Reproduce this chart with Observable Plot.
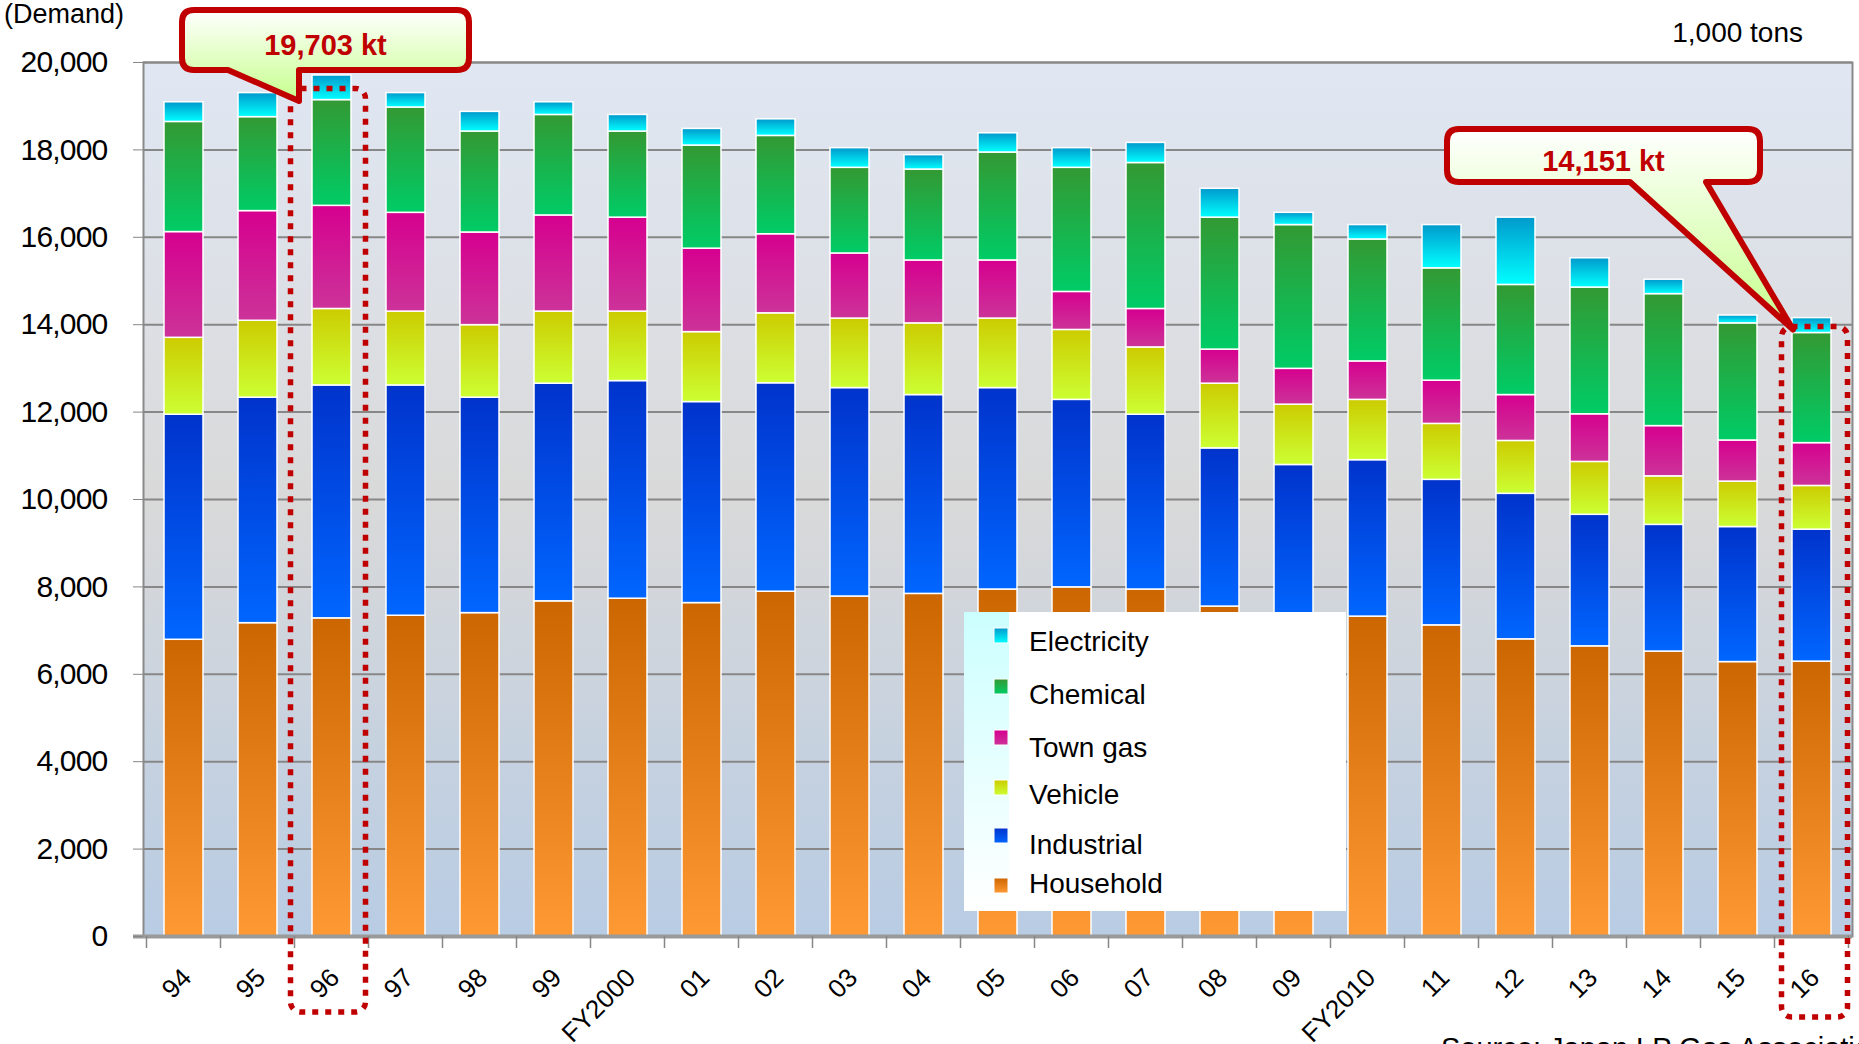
<!DOCTYPE html>
<html>
<head>
<meta charset="utf-8">
<script src="https://cdn.jsdelivr.net/npm/d3@7"></script>
<script src="https://cdn.jsdelivr.net/npm/@observablehq/plot@0.6"></script>
<style>
  html, body { margin: 0; padding: 0; background: #ffffff; overflow: hidden; }
  #chart svg { display: block; }
  #chart [aria-label="y-axis tick label"] text { letter-spacing: -0.8px; }
</style>
</head>
<body>
<svg width="0" height="0" style="position:absolute">
  <defs>
    <linearGradient id="gBg" x1="0" y1="0" x2="0" y2="1">
      <stop offset="0" stop-color="#e0e7f3"/>
      <stop offset="0.5" stop-color="#d9d9d9"/>
      <stop offset="1" stop-color="#b8cce4"/>
    </linearGradient>
    <linearGradient id="gHousehold" x1="0" y1="0" x2="0" y2="1">
      <stop offset="0" stop-color="#cc6600"/><stop offset="1" stop-color="#ff9933"/>
    </linearGradient>
    <linearGradient id="gIndustrial" x1="0" y1="0" x2="0" y2="1">
      <stop offset="0" stop-color="#0033cc"/><stop offset="1" stop-color="#0066ff"/>
    </linearGradient>
    <linearGradient id="gVehicle" x1="0" y1="0" x2="0" y2="1">
      <stop offset="0" stop-color="#cccc00"/><stop offset="1" stop-color="#ccff33"/>
    </linearGradient>
    <linearGradient id="gTown" x1="0" y1="0" x2="0" y2="1">
      <stop offset="0" stop-color="#d6008f"/><stop offset="1" stop-color="#cc3399"/>
    </linearGradient>
    <linearGradient id="gChemical" x1="0" y1="0" x2="0" y2="1">
      <stop offset="0" stop-color="#339933"/><stop offset="1" stop-color="#00cc66"/>
    </linearGradient>
    <linearGradient id="gElectricity" x1="0" y1="0" x2="0" y2="1">
      <stop offset="0" stop-color="#0099cc"/><stop offset="1" stop-color="#00ffff"/>
    </linearGradient>
    <linearGradient id="gCallout" x1="0" y1="0" x2="0" y2="1">
      <stop offset="0" stop-color="#ffffff"/><stop offset="1" stop-color="#c6ff8c"/>
    </linearGradient>
    <linearGradient id="gLegendStrip" x1="0" y1="0" x2="0" y2="1">
      <stop offset="0" stop-color="#ccffff"/><stop offset="1" stop-color="#ffffff"/>
    </linearGradient>
  </defs>
</svg>
<div id="chart"></div>
<script>
// ---------------- DATA ----------------
const years = ["94","95","96","97","98","99","FY2000","01","02","03","04","05","06","07","08","09","FY2010","11","12","13","14","15","16"];
const seriesNames = ["Household","Industrial","Vehicle","Town gas","Chemical","Electricity"];
const household   = [6790,7170,7280,7340,7400,7670,7730,7630,7890,7780,7840,7940,7990,7940,7550,7250,7320,7120,6800,6640,6520,6280,6290];
const industrial  = [5150,5160,5330,5270,4930,4980,4980,4600,4770,4770,4550,4610,4290,4000,3620,3540,3580,3330,3330,3010,2900,3090,3020];
const vehicle     = [1760,1760,1750,1690,1660,1650,1590,1600,1600,1590,1640,1590,1600,1540,1480,1380,1380,1280,1210,1210,1110,1040,1000];
const townGas     = [2420,2510,2360,2260,2120,2200,2150,1910,1810,1490,1440,1330, 870, 880, 780, 820, 880, 990,1050,1090,1150, 940, 980];
const chemical    = [2520,2150,2420,2410,2310,2300,1970,2360,2250,1960,2080,2470,2840,3340,3020,3290,2790,2570,2520,2900,3020,2680,2520];
const electricity = [ 450, 550, 563, 330, 450, 290, 380, 380, 380, 450, 330, 440, 450, 460, 660, 280, 330, 990,1540, 670, 330, 180, 341];
const yTicks = [0,2000,4000,6000,8000,10000,12000,14000,16000,18000,20000];
const calloutYears  = ["96","16"];
const calloutTotals = [19703, 14151];
const legendOrder = ["Electricity","Chemical","Town gas","Vehicle","Industrial","Household"];
const unitLabel = "1,000 tons";
const demandLabel = "(Demand)";
const sourceLabel = "Source: Japan LP Gas Association";

// ---------------- STYLE ----------------
const seriesFills = ["url(#gHousehold)","url(#gIndustrial)","url(#gVehicle)","url(#gTown)","url(#gChemical)","url(#gElectricity)"];
const FONT = "'Liberation Sans', Arial, sans-serif";
const RED = "#c00000";

const seriesValues = [household, industrial, vehicle, townGas, chemical, electricity];
const rows = seriesNames.flatMap((s, i) => years.map((yr, j) => ({year: yr, series: s, value: seriesValues[i][j]})));

const chart = Plot.plot({
  width: 1859,
  height: 1044,
  marginLeft: 143,
  marginRight: 7,
  marginTop: 62,
  marginBottom: 108,
  style: {fontFamily: FONT, background: "white", color: "black", overflow: "visible"},
  x: {type: "band", domain: years, paddingInner: 0.475, paddingOuter: 0.2375, label: null},
  y: {domain: [0, 20000], label: null},
  color: {type: "ordinal", domain: seriesNames, range: seriesFills},
  marks: [
    Plot.frame({fill: "url(#gBg)", stroke: "#8a8a8a", strokeWidth: 2}),
    Plot.gridY(yTicks, {stroke: "#878787", strokeWidth: 2, strokeOpacity: 1}),
    Plot.barY(rows, {x: "year", y: "value", fill: "series", stroke: "white", strokeWidth: 1.5}),
    Plot.ruleY([0], {stroke: "#9a9a9a", strokeWidth: 4, insetLeft: -10}),
    Plot.axisY(yTicks, {tickFormat: d3.format(","), tickSize: 10, tickPadding: 26, fontSize: 30, stroke: "#878787", fill: "black", label: null}),
    Plot.axisX({tickSize: 0, tickRotate: -45, tickPadding: 37, dx: 3, fontSize: 26, fill: "black", label: null})
  ]
});
document.getElementById("chart").appendChild(chart);

// ---------------- EXTRA DRAWING USING PLOT SCALES ----------------
const svg = d3.select(chart);
const xs = chart.scale("x"), ys = chart.scale("y");
const bw = xs.bandwidth;
const step = xs.apply(years[1]) - xs.apply(years[0]);
const slotStart = yr => xs.apply(yr) - (step - bw) / 2;
const y0 = ys.apply(0);

// boundary tick marks
const tg = svg.append("g");
for (let k = 0; k <= years.length; k++) {
  const xp = slotStart(years[0]) + k * step;
  tg.append("line").attr("x1", xp).attr("x2", xp).attr("y1", y0).attr("y2", y0 + 12)
    .attr("stroke", "#878787").attr("stroke-width", 1.5);
}

// dotted highlight rectangles + callouts
const calloutLayout = [
  {box: [182, 10, 469, 70], tail: [228, 299], tipDx: -13, tipDy: 26, rect: {dl: -4, dr: -3, dt: 13.5, bottom: 1012}},
  {box: [1447, 129, 1760, 182], tail: [1630, 1706], tipDx: 1, tipDy: 12, rect: {dl: 7, dr: -1, dt: 9, bottom: 1017}}
];
const ag = svg.append("g");
calloutYears.forEach((yr, i) => {
  const L = calloutLayout[i];
  const s = slotStart(yr);
  const top = ys.apply(calloutTotals[i]) + L.rect.dt;
  ag.append("rect")
    .attr("x", s + L.rect.dl).attr("y", top)
    .attr("width", step + L.rect.dr - L.rect.dl).attr("height", L.rect.bottom - top)
    .attr("rx", 10).attr("ry", 10)
    .attr("fill", "none").attr("stroke", RED).attr("stroke-width", 5.5)
    .attr("stroke-dasharray", "6 7");
});
calloutYears.forEach((yr, i) => {
  const L = calloutLayout[i];
  const tipX = xs.apply(yr) + L.tipDx;
  const tipY = ys.apply(calloutTotals[i]) + L.tipDy;
  const [x0, y0b, x1, y1] = L.box;
  const r = 12;
  const [ta, tb] = L.tail;
  const p = `M${x0 + r},${y0b} H${x1 - r} Q${x1},${y0b} ${x1},${y0b + r} V${y1 - r} Q${x1},${y1} ${x1 - r},${y1} ` +
            `H${tb} L${tipX},${tipY} L${ta},${y1} H${x0 + r} Q${x0},${y1} ${x0},${y1 - r} V${y0b + r} Q${x0},${y0b} ${x0 + r},${y0b} Z`;
  ag.append("path").attr("d", p).attr("fill", "url(#gCallout)").attr("stroke", RED)
    .attr("stroke-width", 6).attr("stroke-linejoin", "round");
  ag.append("text").attr("x", (x0 + x1) / 2).attr("y", (y0b + y1) / 2 + 15)
    .attr("text-anchor", "middle").attr("font-family", FONT).attr("font-weight", "bold")
    .attr("font-size", 29).attr("fill", RED)
    .text(d3.format(",")(calloutTotals[i]) + " kt");
});

// legend
const lg = svg.append("g");
lg.append("rect").attr("x", 964).attr("y", 612).attr("width", 382).attr("height", 299).attr("fill", "white");
lg.append("rect").attr("x", 964).attr("y", 612).attr("width", 45).attr("height", 299).attr("fill", "url(#gLegendStrip)");
const legendFill = name => seriesFills[seriesNames.indexOf(name)];
const swatchY = [628, 679, 730, 780, 828, 878];
const textY = [651, 704, 757, 804, 854, 893];
legendOrder.forEach((name, i) => {
  lg.append("rect").attr("x", 994).attr("y", swatchY[i]).attr("width", 14).attr("height", 15)
    .attr("fill", legendFill(name)).attr("stroke", "white").attr("stroke-width", 1);
  lg.append("text").attr("x", 1029).attr("y", textY[i]).attr("text-anchor", "start").attr("font-family", FONT)
    .attr("font-size", 28).attr("fill", "black").text(name);
});

// labels
svg.append("text").attr("x", 4).attr("y", 23).attr("text-anchor", "start").attr("font-family", FONT).attr("font-size", 27).attr("fill", "black").text(demandLabel);
svg.append("text").attr("x", 1803).attr("y", 42).attr("text-anchor", "end").attr("font-family", FONT).attr("font-size", 28).attr("fill", "black").text(unitLabel);
svg.append("text").attr("x", 1441).attr("y", 1058).attr("text-anchor", "start").attr("font-family", FONT).attr("font-size", 29).attr("fill", "black").text(sourceLabel);
</script>
</body>
</html>
